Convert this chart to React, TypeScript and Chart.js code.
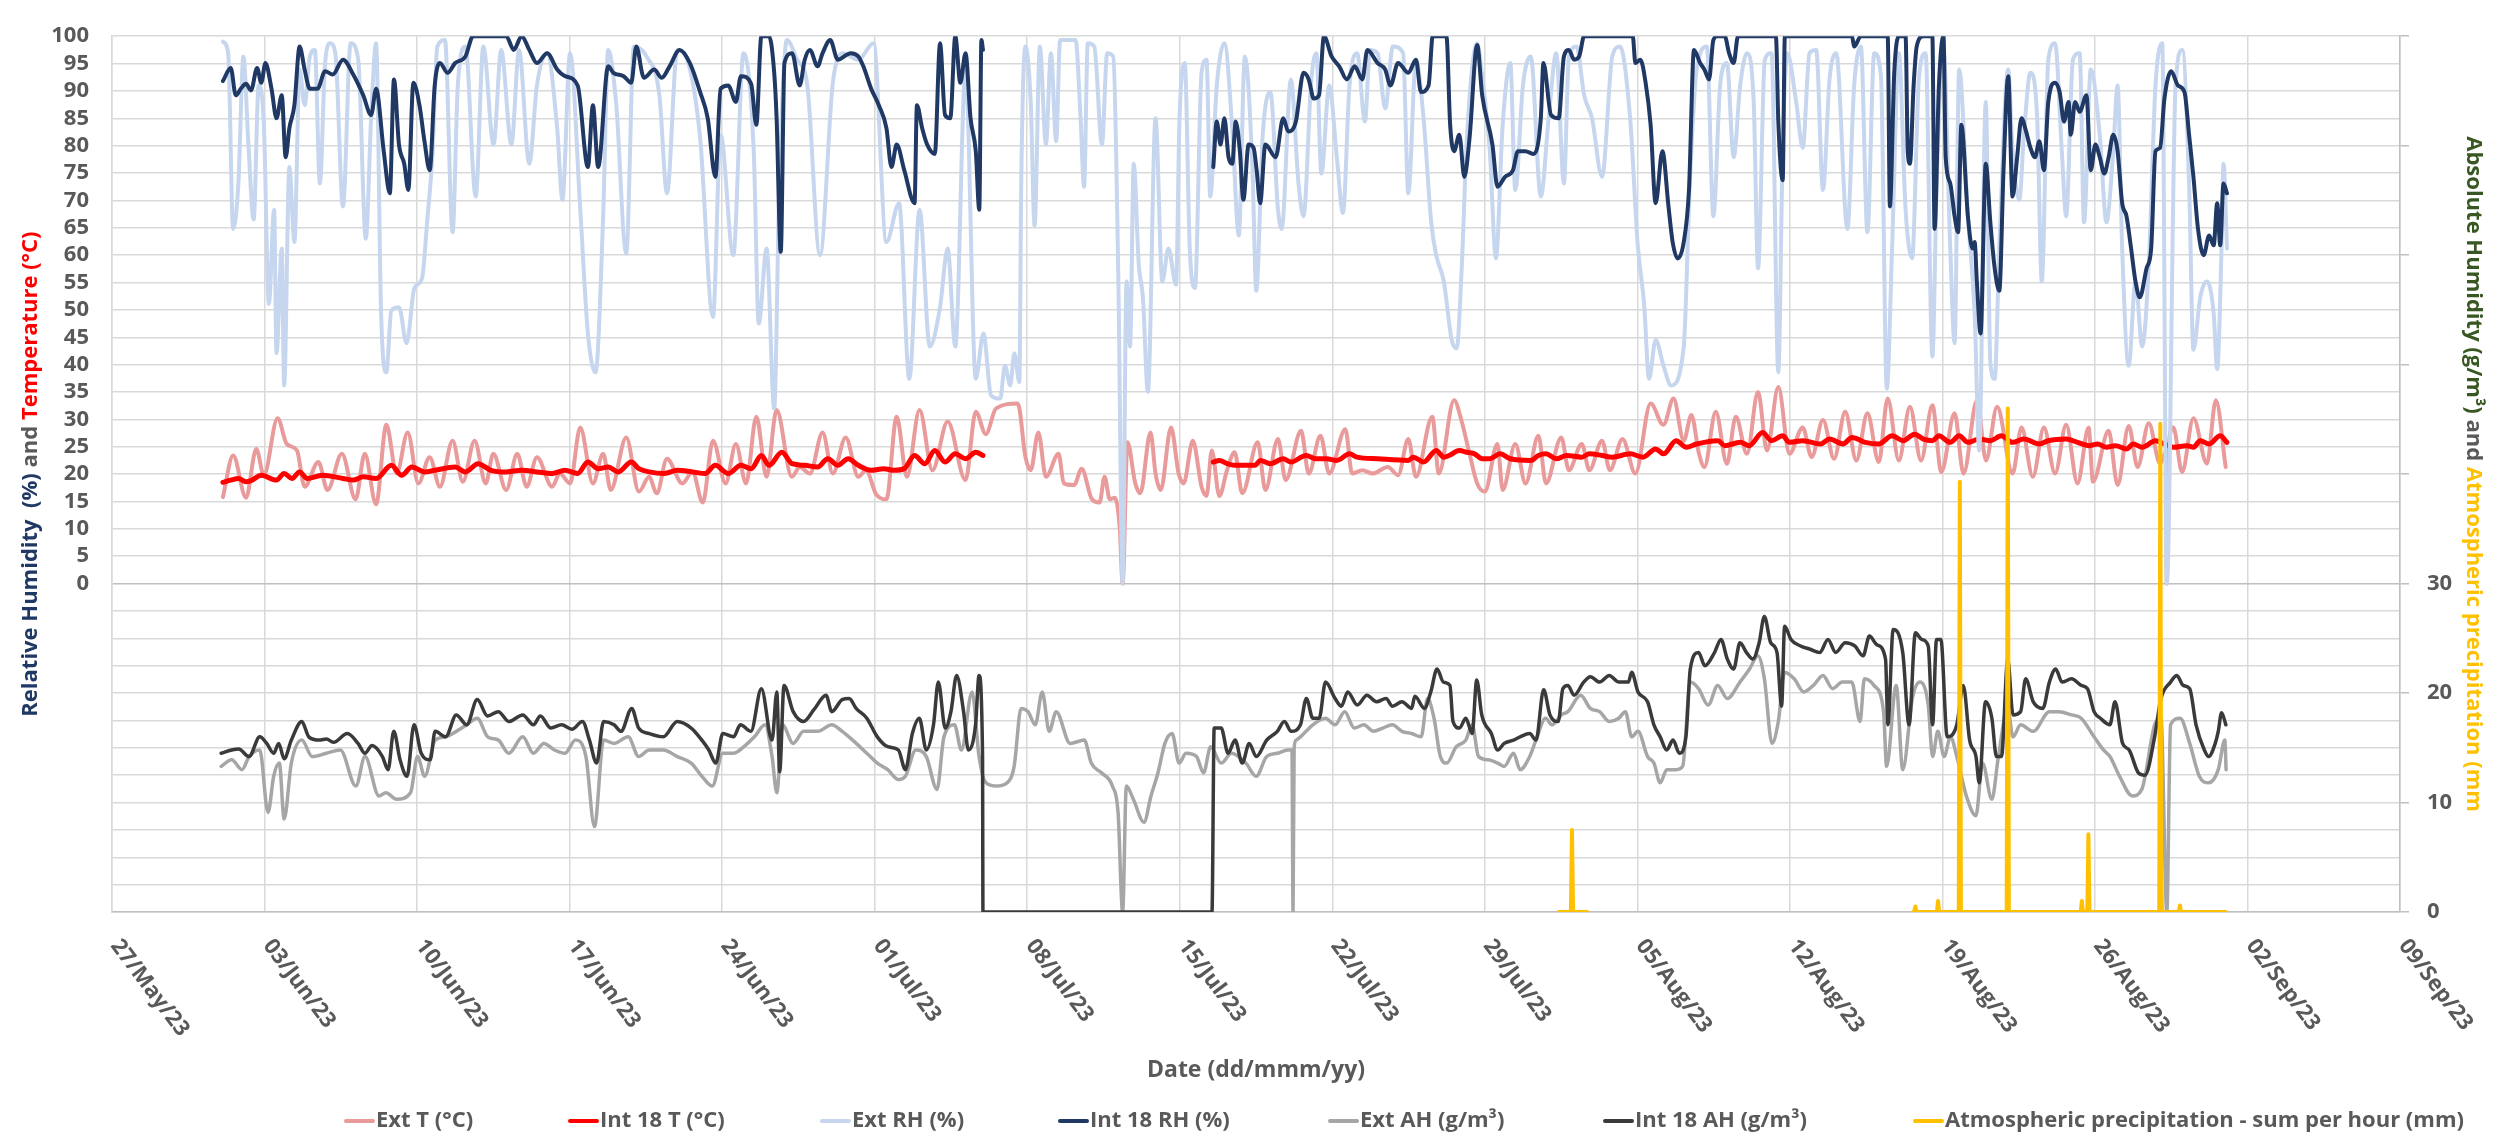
import React, { useEffect, useRef } from 'react';
import { Chart, registerables } from 'chart.js';

Chart.register(...registerables);

// x axis: days since 27/May/23
const xTickLabels = ['27/May/23', '03/Jun/23', '10/Jun/23', '17/Jun/23', '24/Jun/23', '01/Jul/23', '08/Jul/23', '15/Jul/23', '22/Jul/23', '29/Jul/23', '05/Aug/23', '12/Aug/23', '19/Aug/23', '26/Aug/23', '02/Sep/23', '09/Sep/23'];

const seriesLabels = ['Ext T (°C)', 'Int 18 T (°C)', 'Ext RH (%)', 'Int 18 RH (%)', 'Ext AH (g/m³)', 'Int 18 AH (g/m³)', 'Atmospheric precipitation - sum per hour (mm)'];

const extT: [number, number | null][] = [
[5.09,15.8],[5.56,23.4],[6.15,15.7],[6.62,24.6],[6.97,19.8],[7.6,30.2],[8.02,25.5],[8.49,24.3],[8.84,17.7],[9.47,22.2],[9.89,17.1],[10.55,23.7],[11.18,15.4],[11.6,23.7],[12.12,14.5],[12.59,29.0],[13.06,20.1],[13.57,27.6],[14.06,18.3],[14.58,23.1],[15.05,17.7],[15.63,26.1],[16.1,18.6],[16.64,26.1],[17.15,18.3],[17.5,23.7],[18.09,17.1],[18.6,23.7],[19.03,17.7],[19.5,23.1],[20.2,17.7],[20.55,20.1],[21.02,18.3],[21.49,28.5],[22.07,18.3],[22.54,23.7],[22.89,17.1],[23.6,26.7],[24.18,16.8],[24.65,19.5],[25.0,16.5],[25.47,22.8],[26.17,18.3],[26.64,20.4],[27.11,14.8],[27.58,26.1],[28.16,18.3],[28.63,25.5],[29.1,18.3],[29.57,30.5],[30.04,19.5],[30.5,31.7],[31.2,19.5],[31.56,21.3],[32.03,20.1],[32.61,27.6],[33.08,20.1],[33.67,26.7],[34.25,19.5],[34.6,20.7],[35.07,16.3],[35.54,15.4],[36.01,30.5],[36.48,19.5],[37.06,31.7],[37.65,20.7],[38.35,29.6],[39.17,18.9],[39.64,31.4],[40.1,27.3],[40.57,32.0],[41.57,32.9],[41.92,23.1],[42.16,20.7],[42.51,27.6],[42.86,19.5],[43.44,23.7],[43.68,18.3],[44.15,18.0],[44.5,21.0],[44.97,15.4],[45.32,14.8],[45.55,19.5],[45.79,15.4],[46.02,15.7],[46.25,10.0],[46.38,0],[46.6,25.8],[46.96,18.3],[47.19,16.5],[47.66,27.6],[47.89,20.1],[48.13,17.1],[48.6,28.5],[48.95,20.1],[49.18,18.3],[49.6,26.1],[50.0,17.7],[50.23,16.0],[50.47,24.3],[50.82,16.0],[51.17,20.7],[51.52,24.0],[51.87,16.5],[52.58,25.8],[52.93,17.1],[53.51,26.4],[53.86,18.9],[54.57,27.9],[54.92,20.1],[55.46,27.0],[55.86,20.1],[56.6,28.2],[56.91,20.1],[57.38,20.7],[57.85,20.1],[58.55,21.3],[59.02,19.8],[59.49,26.4],[59.84,19.5],[60.59,30.5],[60.89,20.1],[61.59,33.5],[61.94,29.6],[62.3,23.7],[62.65,18.3],[63.0,16.8],[63.58,25.5],[63.82,17.1],[64.4,25.5],[64.87,18.3],[65.46,27.0],[65.81,18.3],[66.51,26.7],[66.86,20.7],[67.45,25.5],[67.8,20.7],[68.38,26.1],[68.74,20.7],[69.32,26.4],[69.91,20.1],[70.61,32.9],[71.2,29.0],[71.66,33.8],[72.13,26.1],[72.48,30.8],[72.83,23.7],[73.08,21.3],[73.6,31.4],[74.11,21.9],[74.52,30.5],[75.03,23.7],[75.54,35.0],[75.95,24.3],[76.47,35.9],[76.98,23.7],[77.59,28.5],[78.0,23.1],[78.52,29.9],[79.03,22.8],[79.54,31.4],[80.05,22.5],[80.56,31.1],[81.08,22.2],[81.49,33.8],[82.0,22.5],[82.51,32.3],[83.02,22.5],[83.54,32.6],[83.95,20.4],[84.56,31.1],[84.97,20.1],[85.59,33.5],[86.0,22.5],[86.51,32.3],[87.22,20.1],[87.63,28.5],[88.15,19.5],[88.66,28.5],[89.17,20.1],[89.68,29.0],[90.2,18.3],[90.71,28.5],[90.91,18.6],[91.63,27.9],[92.04,18.0],[92.55,28.8],[92.96,21.3],[93.47,29.3],[93.99,21.9],[94.25,24.0],[94.3,0],[94.36,24.0],[94.6,28.5],[95.0,20.4],[95.52,30.2],[96.14,21.9],[96.55,33.5],[97.0,21.3]
];

const intT: [number, number | null][] = [
[5.09,18.5],[5.45,18.9],[5.8,19.2],[6.15,18.6],[6.38,18.8],[6.85,19.8],[7.55,18.9],[7.9,20.1],[8.26,19.2],[8.61,20.4],[8.96,19.2],[9.66,19.8],[10.6,19.2],[11.07,18.9],[11.53,19.5],[12.12,19.2],[12.82,21.6],[13.29,19.8],[13.76,21.3],[14.34,20.4],[14.81,20.7],[15.75,21.3],[16.22,20.4],[16.8,21.9],[17.39,20.7],[18.09,20.4],[18.8,20.7],[19.5,20.4],[20.2,20.1],[20.79,20.7],[21.37,20.1],[21.84,22.2],[22.31,21.0],[22.77,21.3],[23.24,20.4],[23.83,22.2],[24.18,21.0],[24.65,20.4],[25.35,20.1],[25.94,20.7],[26.64,20.4],[27.22,20.1],[27.69,21.6],[28.28,20.1],[28.86,21.6],[29.33,21.0],[29.8,23.4],[30.15,21.6],[30.74,24.0],[31.21,21.9],[31.79,21.6],[32.38,21.3],[32.85,22.8],[33.31,21.6],[33.78,22.8],[34.25,21.6],[34.84,20.7],[35.42,21.0],[35.89,20.7],[36.36,21.0],[36.83,23.4],[37.3,21.9],[37.76,24.3],[38.23,22.2],[38.7,23.7],[39.17,22.8],[39.64,24.0],[39.97,23.4],
[45,null],
[50.54,22.2],[50.82,22.5],[51.17,21.9],[51.52,21.6],[51.99,21.6],[52.46,21.6],[52.69,22.5],[53.16,21.9],[53.75,22.8],[54.1,22.2],[54.8,23.4],[55.27,22.8],[55.74,22.8],[56.21,22.5],[56.79,23.7],[57.14,23.1],[58.08,22.8],[59.49,22.5],[59.72,23.1],[60.19,22.2],[60.77,24.3],[61.12,23.1],[61.36,23.4],[61.83,24.3],[62.18,24.0],[62.53,23.7],[62.88,22.8],[63.23,22.8],[63.7,23.7],[64.17,22.8],[65.11,22.5],[65.46,23.4],[65.81,23.7],[66.28,22.8],[66.75,23.4],[67.45,23.1],[67.8,23.7],[68.38,23.4],[68.85,23.1],[69.67,23.7],[70.26,23.1],[70.84,24.6],[71.2,23.7],[71.78,26.1],[72.25,24.9],[72.72,25.5],[73.7,26.1],[74.01,25.2],[74.72,25.8],[75.13,25.2],[75.75,27.6],[76.16,26.1],[76.67,27.0],[76.98,25.8],[77.59,26.1],[78.41,25.5],[78.82,26.4],[79.44,25.5],[79.85,26.7],[80.46,25.8],[81.08,25.5],[81.69,27.0],[82.2,26.1],[82.72,27.3],[83.13,26.4],[83.54,26.1],[83.84,27.0],[84.36,25.8],[84.77,27.0],[85.17,25.8],[85.69,26.4],[86.2,26.1],[86.71,27.0],[87.22,25.8],[87.74,26.4],[88.45,25.5],[88.86,26.1],[89.68,26.4],[90.2,25.8],[90.71,25.2],[91.12,25.5],[91.53,24.9],[91.94,25.2],[92.45,24.6],[92.76,25.5],[93.17,24.9],[93.78,26.1],[94.19,25.5],[94.6,24.9],[95.22,25.2],[95.52,24.9],[95.83,26.1],[96.24,25.5],[96.75,27.0],[97.06,25.8]
];

const extRH: [number, number | null][] = [
[5.09,99.0],[5.33,96.9],[5.56,64.8],[5.8,73.1],[6.03,96.3],[6.26,80.2],[6.5,66.5],[6.73,91.0],[6.97,83.8],[7.2,51.1],[7.44,68.3],[7.55,42.1],[7.79,61.2],[7.9,36.2],[8.14,76.1],[8.37,62.4],[8.61,93.9],[8.84,87.4],[9.08,96.3],[9.31,97.5],[9.54,73.1],[9.78,95.1],[10.01,98.7],[10.25,96.9],[10.6,68.9],[10.95,98.7],[11.3,95.7],[11.65,63.0],[11.89,85.0],[12.12,98.7],[12.35,49.3],[12.59,38.6],[12.82,49.9],[13.17,50.5],[13.52,43.9],[13.88,54.0],[14.23,55.8],[14.46,66.0],[14.7,77.9],[14.93,98.1],[15.28,99.3],[15.63,64.2],[15.87,91.0],[16.22,98.1],[16.69,70.7],[17.04,98.1],[17.51,80.2],[17.86,97.5],[18.33,80.2],[18.68,97.5],[19.15,76.7],[19.5,91.0],[19.97,96.9],[20.43,83.2],[20.67,70.1],[21.02,96.9],[21.49,68.3],[21.84,45.7],[22.19,38.6],[22.54,67.1],[22.77,97.5],[23.13,88.0],[23.6,60.3],[23.95,98.1],[24.53,96.3],[25.12,89.2],[25.47,71.3],[25.94,97.5],[26.4,95.7],[26.99,81.4],[27.58,48.7],[27.93,82.0],[28.51,60.0],[28.98,96.9],[29.45,79.0],[29.68,47.5],[30.04,61.2],[30.39,32.0],[30.62,71.9],[30.97,99.3],[31.44,95.7],[31.91,91.0],[32.49,60.0],[33.08,91.5],[33.55,96.9],[34.25,95.7],[34.95,98.7],[35.54,62.4],[36.12,69.5],[36.59,37.4],[37.06,68.3],[37.53,43.3],[38.0,50.5],[38.35,61.2],[38.7,43.3],[39.17,93.9],[39.64,37.4],[39.99,45.7],[40.34,34.4],[40.76,33.8],[40.98,39.8],[41.22,36.2],[41.41,42.1],[41.64,36.8],[41.73,74.3],[41.92,98.1],[42.16,88.0],[42.34,65.4],[42.58,98.1],[42.86,80.2],[43.09,96.9],[43.33,80.8],[43.51,99.3],[43.91,99.3],[44.22,99.3],[44.45,85.0],[44.61,72.5],[44.78,98.7],[45.08,98.1],[45.43,80.2],[45.67,96.9],[45.95,96.3],[46.18,56.4],[46.38,0],[46.56,55.2],[46.72,43.3],[46.89,76.7],[47.12,58.2],[47.31,52.3],[47.54,35.0],[47.89,85.0],[48.2,55.2],[48.48,61.2],[48.83,54.6],[48.99,85.0],[49.23,95.1],[49.46,61.2],[49.7,54.0],[50.0,93.3],[50.23,95.7],[50.4,70.7],[50.7,91.0],[51.05,98.7],[51.41,83.2],[51.71,63.6],[51.99,96.3],[52.34,75.5],[52.51,53.5],[52.81,82.0],[53.16,89.8],[53.51,68.3],[53.68,64.8],[54.1,92.1],[54.45,73.1],[54.68,67.1],[55.04,92.1],[55.27,96.9],[55.5,74.9],[55.86,91.0],[56.21,77.9],[56.49,67.7],[56.79,91.0],[57.14,96.9],[57.5,84.4],[57.73,97.5],[58.08,96.9],[58.43,86.8],[58.78,98.1],[59.25,96.9],[59.49,71.3],[59.84,95.7],[60.19,85.0],[60.54,66.0],[60.77,60.0],[61.12,55.2],[61.48,44.5],[61.71,43.0],[61.94,57.6],[62.18,81.4],[62.65,98.7],[62.88,92.7],[63.23,79.0],[63.51,59.4],[63.82,83.8],[64.17,95.1],[64.4,71.9],[64.75,91.0],[65.11,96.3],[65.57,70.7],[65.93,85.0],[66.28,96.9],[66.63,73.1],[66.86,96.3],[67.21,98.1],[67.56,89.2],[67.92,85.0],[68.38,74.3],[68.85,96.3],[69.2,98.1],[69.67,85.0],[70.02,61.8],[70.31,51.1],[70.54,37.4],[70.84,44.5],[71.2,39.8],[71.55,36.2],[72.13,43.3],[72.41,73.1],[72.72,93.9],[73.19,98.1],[73.49,67.1],[73.8,91.0],[74.11,95.1],[74.42,77.9],[74.72,91.0],[75.03,96.9],[75.34,88.0],[75.54,57.6],[75.85,95.7],[76.16,96.9],[76.47,38.6],[76.67,79.0],[76.88,96.9],[77.29,88.0],[77.59,79.6],[77.9,96.9],[78.21,97.5],[78.52,71.9],[78.82,92.1],[79.13,96.9],[79.64,64.8],[79.95,91.0],[80.26,98.1],[80.56,64.2],[80.87,96.9],[81.18,92.7],[81.45,35.6],[81.69,61.2],[82.0,96.9],[82.31,68.3],[82.61,59.4],[82.92,92.1],[83.23,96.9],[83.54,41.5],[83.74,73.1],[84.05,97.5],[84.36,61.2],[84.56,43.9],[84.77,93.9],[85.17,67.1],[85.48,49.3],[85.69,24.3],[85.99,88.0],[86.2,40.4],[86.4,37.4],[86.61,61.2],[87.02,93.9],[87.22,79.0],[87.53,70.1],[87.74,82.0],[88.04,93.3],[88.35,85.0],[88.56,55.2],[88.86,95.7],[89.17,98.7],[89.48,79.0],[89.68,67.1],[89.99,95.7],[90.3,96.9],[90.5,66.0],[90.81,93.9],[91.22,82.0],[91.53,66.0],[91.84,79.0],[92.04,91.0],[92.25,61.2],[92.55,39.8],[92.86,55.2],[93.17,43.3],[93.47,58.2],[93.78,91.0],[94.09,98.7],[94.3,0],[94.7,91.0],[95.01,97.5],[95.32,73.1],[95.52,42.7],[95.83,52.3],[96.14,55.2],[96.45,49.3],[96.61,39.2],[96.81,61.2],[96.9,76.7],[97.06,61.2]
];

const intRH: [number, number | null][] = [
[5.09,91.8],[5.45,94.2],[5.68,89.2],[5.91,90.4],[6.15,91.3],[6.38,90.1],[6.66,94.2],[6.85,91.5],[7.04,95.1],[7.32,90.4],[7.55,85.0],[7.79,89.2],[7.97,77.9],[8.14,83.2],[8.37,87.4],[8.61,98.1],[8.84,93.9],[9.08,90.4],[9.43,90.4],[9.78,93.6],[10.13,93.0],[10.6,95.7],[11.07,93.0],[11.53,89.2],[11.89,85.6],[12.12,90.4],[12.47,79.0],[12.75,71.3],[12.94,92.1],[13.17,80.2],[13.41,76.7],[13.6,71.9],[13.83,91.5],[14.11,87.4],[14.34,80.8],[14.58,75.5],[14.81,91.0],[15.05,95.1],[15.4,93.3],[15.75,95.1],[16.22,96.3],[16.57,100],[18.09,100],[18.44,97.5],[18.8,100],[19.15,97.5],[19.5,95.1],[19.97,96.9],[20.43,93.9],[20.79,92.7],[21.37,91.0],[21.84,76.1],[22.07,87.4],[22.31,76.1],[22.77,94.5],[23.01,93.3],[23.48,92.7],[23.83,91.5],[24.06,98.1],[24.41,92.4],[24.88,93.9],[25.23,92.4],[25.59,94.5],[26.05,97.5],[26.52,95.1],[26.99,89.8],[27.34,85.0],[27.69,74.3],[27.93,90.4],[28.28,91.0],[28.63,88.0],[28.86,92.7],[29.33,91.3],[29.57,83.8],[29.8,100],[30.15,100],[30.39,93.3],[30.5,85.0],[30.69,60.6],[30.86,95.1],[31.21,96.9],[31.56,91.0],[31.79,95.7],[32.03,97.5],[32.38,94.5],[32.61,96.9],[32.96,99.3],[33.31,95.7],[33.9,96.9],[34.25,96.3],[34.48,94.5],[34.84,90.4],[35.19,87.4],[35.54,83.2],[35.77,76.1],[36.01,80.2],[36.36,75.5],[36.83,69.5],[36.94,87.4],[37.18,83.2],[37.41,80.2],[37.76,78.5],[38.0,98.7],[38.23,85.6],[38.47,85.0],[38.7,100],[38.93,91.5],[39.17,96.9],[39.4,85.0],[39.64,79.0],[39.8,68.3],[39.9,99.3],[39.97,97.5],
[45,null],
[50.54,76.1],[50.7,84.4],[50.87,80.2],[51.05,85.0],[51.24,77.9],[51.41,76.7],[51.57,84.4],[51.76,79.0],[51.92,70.1],[52.16,80.2],[52.39,79.6],[52.53,75.5],[52.69,69.5],[52.93,80.2],[53.4,77.9],[53.75,85.0],[53.98,82.6],[54.33,84.4],[54.68,93.3],[54.92,92.1],[55.15,88.6],[55.39,89.2],[55.62,100],[55.97,96.3],[56.32,94.5],[56.67,92.1],[57.03,94.5],[57.38,92.1],[57.61,97.5],[58.08,95.1],[58.43,93.9],[58.67,91.0],[59.02,95.1],[59.49,93.3],[59.84,95.7],[60.07,89.8],[60.42,91.0],[60.61,100],[61.24,100],[61.41,83.8],[61.59,79.0],[61.83,82.0],[62.06,74.3],[62.3,81.4],[62.65,98.4],[62.88,89.2],[63.35,80.2],[63.58,72.5],[63.93,74.3],[64.29,75.5],[64.52,79.0],[64.87,79.0],[65.22,78.5],[65.57,85.0],[65.69,95.1],[66.04,85.6],[66.39,85.0],[66.63,96.3],[66.86,97.5],[67.1,95.7],[67.33,96.3],[67.56,100],[69.79,100],[69.91,95.1],[70.14,95.7],[70.38,91.5],[70.61,83.8],[70.84,69.5],[71.15,79.0],[71.43,68.9],[71.62,62.4],[71.85,59.4],[72.13,62.4],[72.37,71.9],[72.6,97.5],[72.88,95.1],[73.08,93.9],[73.29,92.1],[73.49,99.3],[73.7,100],[74.01,100],[74.21,96.9],[74.42,95.1],[74.62,100],[76.36,100],[76.47,84.4],[76.67,73.7],[76.77,100],[79.85,100],[79.95,98.1],[80.26,100],[81.49,100],[81.59,68.9],[81.79,93.3],[82.0,100],[82.31,100],[82.41,79.0],[82.51,76.7],[82.68,91.0],[82.82,98.1],[83.13,100],[83.54,100],[83.64,64.8],[83.84,91.0],[84.05,100],[84.15,77.9],[84.36,73.1],[84.56,67.1],[84.72,64.2],[84.87,83.8],[85.17,67.1],[85.38,61.2],[85.48,62.4],[85.58,55.2],[85.75,45.7],[85.99,76.7],[86.2,66.0],[86.4,57.6],[86.61,53.5],[86.81,76.1],[87.02,92.7],[87.22,70.7],[87.43,77.9],[87.63,85.0],[87.84,82.6],[88.04,79.6],[88.25,77.9],[88.45,80.8],[88.66,75.5],[88.86,88.0],[89.17,91.5],[89.38,89.8],[89.58,84.4],[89.79,88.0],[89.89,82.0],[90.09,88.0],[90.3,86.2],[90.61,89.2],[90.81,75.5],[91.02,80.2],[91.22,77.9],[91.43,74.9],[91.63,77.9],[91.84,82.0],[92.04,79.0],[92.25,69.5],[92.45,67.1],[92.66,61.2],[92.86,55.2],[93.06,52.3],[93.37,57.6],[93.58,61.2],[93.78,79.0],[93.99,79.6],[94.19,88.6],[94.5,93.6],[94.81,91.0],[95.11,89.8],[95.32,82.0],[95.52,74.3],[95.73,64.8],[95.99,60.0],[96.24,63.6],[96.45,61.8],[96.61,69.5],[96.75,61.8],[96.9,73.1],[97.06,71.3]
];

const extAH: [number, number | null][] = [
[5.01,13.3],[5.49,13.9],[5.97,13.0],[6.29,14.2],[6.78,14.8],[7.16,9.1],[7.42,12.4],[7.68,13.6],[7.9,8.5],[8.23,13.6],[8.71,15.7],[9.19,14.2],[9.84,14.5],[10.48,14.8],[11.19,11.5],[11.61,14.2],[12.25,10.6],[12.57,10.9],[13.06,10.3],[13.7,10.9],[14.02,14.2],[14.35,12.4],[14.83,15.7],[15.31,16.0],[15.8,16.5],[16.28,17.1],[16.76,17.7],[17.24,16.0],[17.73,15.7],[18.21,14.5],[18.85,16.0],[19.34,14.5],[19.82,15.4],[20.3,14.8],[20.79,14.5],[21.27,15.7],[21.75,14.2],[22.14,7.8],[22.56,15.7],[23.04,15.4],[23.69,16.0],[24.17,14.2],[24.65,14.8],[25.3,14.8],[25.94,14.2],[26.58,13.6],[27.07,12.4],[27.55,11.5],[28.03,14.5],[28.52,14.5],[29.0,15.1],[29.48,16.0],[29.97,17.1],[30.29,14.2],[30.51,10.9],[30.77,17.1],[31.26,15.4],[31.74,16.5],[32.38,16.5],[33.03,17.1],[33.51,16.5],[33.99,15.7],[34.64,14.5],[35.12,13.6],[35.6,13.0],[36.09,12.1],[36.41,12.4],[36.89,14.8],[37.37,14.2],[37.86,11.2],[38.18,16.0],[38.66,17.1],[38.98,14.8],[39.47,20.1],[39.79,14.2],[40.11,11.8],[40.59,11.5],[41.08,11.8],[41.4,13.3],[41.72,18.6],[42.04,18.3],[42.37,17.1],[42.69,20.1],[43.01,16.5],[43.33,18.3],[43.97,15.4],[44.62,15.7],[44.94,13.6],[45.42,12.7],[45.91,11.5],[46.17,9.1],[46.38,0],[46.55,11.5],[46.87,10.3],[47.36,8.2],[47.68,10.6],[48.0,12.7],[48.32,15.4],[48.65,16.3],[48.97,13.6],[49.29,14.5],[49.77,14.2],[50.09,12.7],[50.42,15.1],[50.9,13.6],[51.38,14.5],[52.03,13.6],[52.51,12.4],[52.99,14.2],[53.48,14.5],[53.96,14.8],[54.15,14.8],[54.2,0],[54.25,15.0],[54.34,15.7],[54.54,16.0],[55.11,17.1],[55.69,17.7],[56.13,17.1],[56.57,18.3],[57.01,16.8],[57.45,17.1],[57.89,16.5],[58.32,16.8],[58.76,17.1],[59.2,16.5],[59.64,16.3],[60.08,16.0],[60.37,19.5],[60.67,17.7],[60.96,14.2],[61.25,13.6],[61.69,15.1],[62.13,15.7],[62.42,17.1],[62.71,14.2],[63.15,13.9],[63.59,13.6],[63.89,13.3],[64.32,14.5],[64.62,13.0],[65.06,14.2],[65.35,15.7],[65.79,17.7],[66.08,17.1],[66.52,18.0],[66.81,18.3],[67.4,19.8],[67.84,18.6],[68.27,18.3],[68.71,17.4],[69.15,17.7],[69.45,18.3],[69.74,16.0],[70.03,16.5],[70.47,14.2],[70.76,13.6],[71.05,11.8],[71.35,13.0],[71.79,13.0],[72.08,13.3],[72.43,21.0],[72.81,20.4],[73.25,18.9],[73.69,20.7],[74.13,19.5],[74.71,21.0],[75.15,22.2],[75.53,23.4],[75.83,21.3],[76.18,15.4],[76.47,17.4],[76.76,21.9],[77.2,21.3],[77.64,20.1],[78.08,20.7],[78.52,21.6],[78.96,20.4],[79.4,21.0],[79.84,21.0],[80.22,17.4],[80.42,21.3],[80.86,20.7],[81.3,18.3],[81.44,13.3],[81.88,20.7],[82.18,13.0],[82.62,19.5],[82.97,21.0],[83.35,18.9],[83.55,14.2],[83.79,16.5],[84.08,14.2],[84.37,16.0],[84.66,14.2],[85.1,10.6],[85.54,8.8],[85.84,13.6],[86.27,10.3],[86.57,14.2],[87.0,18.6],[87.24,16.0],[87.59,17.1],[88.17,16.5],[88.91,18.3],[89.35,18.3],[89.93,18.0],[90.37,17.7],[90.96,16.0],[91.39,14.8],[91.69,14.2],[92.13,12.4],[92.71,10.6],[93.15,11.2],[93.74,17.1],[94.03,17.7],[94.3,0],[94.47,17.1],[94.91,17.7],[95.35,15.4],[95.79,12.4],[96.22,11.8],[96.66,13.0],[96.96,15.7],[97.02,13.0]
];

const intAH: [number, number | null][] = [
[5.01,14.5],[5.49,14.8],[5.81,14.9],[6.29,14.2],[6.78,16.0],[7.1,15.4],[7.42,14.5],[7.65,15.4],[7.9,14.0],[8.23,15.7],[8.71,17.4],[9.03,16.0],[9.52,15.7],[9.84,15.8],[10.16,15.5],[10.8,16.3],[11.29,15.4],[11.61,14.5],[11.93,15.2],[12.41,14.2],[12.67,13.0],[12.93,16.5],[13.22,13.9],[13.54,12.4],[13.86,17.1],[14.19,14.5],[14.6,13.9],[14.83,16.5],[15.31,16.0],[15.8,18.0],[16.28,17.1],[16.76,19.4],[17.24,17.9],[17.73,18.3],[18.21,17.4],[18.85,18.0],[19.34,17.1],[19.66,17.9],[20.14,16.8],[20.63,17.1],[21.11,16.7],[21.59,17.4],[21.91,15.7],[22.24,13.6],[22.56,17.4],[23.04,17.1],[23.36,16.5],[23.85,18.6],[24.17,16.8],[24.65,16.3],[25.3,16.0],[25.94,17.4],[26.58,16.8],[27.07,15.7],[27.39,14.8],[27.71,13.6],[28.03,16.3],[28.52,16.0],[28.84,17.1],[29.32,16.5],[29.8,20.4],[30.29,15.7],[30.51,20.1],[30.64,12.8],[30.84,20.7],[31.26,18.3],[31.74,17.4],[32.22,18.5],[32.77,19.8],[33.03,18.3],[33.51,19.4],[33.83,19.5],[34.15,18.6],[34.64,17.7],[35.12,16.0],[35.6,15.1],[36.09,14.8],[36.41,13.0],[36.73,16.3],[37.05,17.7],[37.37,14.8],[37.7,17.1],[37.92,21.0],[38.24,16.8],[38.5,18.3],[38.76,21.6],[39.08,18.3],[39.3,14.8],[39.63,17.1],[39.79,21.6],[39.95,14.5],[39.97,0],[50.48,0],[50.58,16.8],[50.9,16.8],[51.22,14.5],[51.54,15.7],[51.87,13.6],[52.19,15.4],[52.51,14.2],[52.99,15.7],[53.48,16.5],[53.8,17.4],[54.12,16.5],[54.54,17.1],[54.81,19.5],[55.11,17.7],[55.4,17.7],[55.69,21.0],[56.13,19.5],[56.42,18.8],[56.71,20.1],[57.15,18.9],[57.59,19.8],[58.03,19.2],[58.47,19.5],[58.76,18.8],[59.2,19.2],[59.64,18.6],[59.79,19.7],[60.23,18.6],[60.52,20.1],[60.81,22.2],[61.1,21.0],[61.4,20.7],[61.54,17.4],[61.84,16.8],[62.13,17.7],[62.42,16.3],[62.63,21.2],[62.86,18.0],[63.3,16.3],[63.59,14.8],[63.89,15.4],[64.32,15.7],[64.62,16.0],[65.06,16.3],[65.35,15.7],[65.7,20.3],[65.99,18.0],[66.37,17.4],[66.58,20.4],[66.81,20.7],[67.1,19.8],[67.54,21.0],[67.84,21.5],[68.27,21.0],[68.71,21.6],[69.15,21.0],[69.59,21.0],[69.74,21.9],[70.03,20.1],[70.47,19.2],[70.76,17.1],[71.05,16.0],[71.35,14.8],[71.64,15.7],[71.93,14.5],[72.23,16.0],[72.43,22.2],[72.81,23.7],[73.1,22.5],[73.54,23.7],[73.84,24.9],[74.13,23.1],[74.42,22.2],[74.71,24.6],[75.01,23.7],[75.3,23.1],[75.59,24.6],[75.83,27.0],[76.12,24.6],[76.41,23.7],[76.62,18.8],[76.76,26.1],[77.05,24.9],[77.49,24.3],[77.93,24.0],[78.37,23.7],[78.75,24.9],[79.1,23.7],[79.54,24.6],[79.98,24.3],[80.36,23.4],[80.65,25.2],[81.0,24.4],[81.39,23.1],[81.5,17.1],[81.74,25.8],[82.18,23.7],[82.47,17.1],[82.76,25.5],[83.05,24.9],[83.35,24.3],[83.55,17.1],[83.73,24.9],[83.93,24.9],[84.22,16.0],[84.66,17.1],[84.96,20.7],[85.25,15.7],[85.54,14.2],[85.69,11.8],[85.98,19.2],[86.27,17.7],[86.48,14.2],[86.71,14.2],[87.0,23.1],[87.24,18.0],[87.59,18.3],[87.82,21.3],[88.17,19.2],[88.61,18.6],[88.91,21.0],[89.2,22.2],[89.49,21.0],[89.93,21.3],[90.37,20.7],[90.66,20.4],[90.96,18.3],[91.25,17.7],[91.69,17.1],[91.92,19.2],[92.27,15.4],[92.57,14.8],[93.0,12.7],[93.3,12.5],[93.74,16.0],[94.03,19.5],[94.47,21.0],[94.76,21.6],[95.05,20.7],[95.35,20.4],[95.64,17.1],[96.02,14.8],[96.22,14.2],[96.52,15.4],[96.66,16.5],[96.81,18.2],[97.01,17.1]
];

const precip: [number, number | null][] = [
[66.4,0],[66.95,0],[67.0,7.5],[67.05,0],[67.7,0],[67.72,null],
[82.7,0],[82.76,0.5],[82.8,0],[83.75,0],[83.8,1.0],[83.85,0],[84.75,0],[84.8,39.3],[84.85,0],[86.95,0],[87.0,46.0],[87.05,0],[90.35,0],[90.4,1.0],[90.45,0],[90.65,0],[90.7,7.1],[90.75,0],[93.95,0],[94.0,44.6],[94.04,4.0],[94.08,0],[94.85,0],[94.9,0.6],[94.95,0],[97.0,0]
];

const FONT_FAMILY = '"Open Sans", Lato, sans-serif';
const TEXT_GRAY = '#595959';
const GRID = '#D9D9D9';
const AXIS = '#BFBFBF';

const toXY = (pts: [number, number | null][]) => pts.map(([x, y]) => ({ x, y }));

type Seg = { text: string; color: string };

function drawSegments(ctx: CanvasRenderingContext2D, segs: Seg[], cx: number, cy: number, angle: number) {
  ctx.save();
  const widths = segs.map((s) => ctx.measureText(s.text).width);
  const total = widths.reduce((a, b) => a + b, 0);
  ctx.translate(cx, cy);
  ctx.rotate(angle);
  ctx.textAlign = 'left';
  ctx.textBaseline = 'middle';
  let x = -total / 2;
  segs.forEach((s, i) => {
    ctx.fillStyle = s.color;
    ctx.fillText(s.text, x, 0);
    x += widths[i];
  });
  ctx.restore();
}

const legendStartX = [344, 568, 820, 1058, 1328, 1603, 1913];

const textPlugin = {
  id: 'customText',
  afterDraw(chart: any) {
    const ctx: CanvasRenderingContext2D = chart.ctx;
    const xs = chart.scales.x;
    const area = chart.chartArea;
    ctx.save();
    // x tick labels, rotated clockwise
    ctx.font = `bold 22px ${FONT_FAMILY}`;
    xs.ticks.forEach((t: any, i: number) => {
      const px = xs.getPixelForValue(t.value);
      ctx.save();
      ctx.translate(px + 3, area.bottom + 30);
      ctx.rotate((53 * Math.PI) / 180);
      ctx.textAlign = 'left';
      ctx.textBaseline = 'middle';
      ctx.fillStyle = TEXT_GRAY;
      ctx.fillText(xTickLabels[i] ?? '', 0, 0);
      ctx.restore();
    });
    // x title
    ctx.font = `bold 23px ${FONT_FAMILY}`;
    ctx.fillStyle = TEXT_GRAY;
    ctx.textAlign = 'center';
    ctx.textBaseline = 'middle';
    ctx.fillText('Date (dd/mmm/yy)', (area.left + area.right) / 2, 1070);
    // axis titles
    const cy = (area.top + area.bottom) / 2;
    ctx.font = `bold 22px ${FONT_FAMILY}`;
    drawSegments(ctx, [
      { text: 'Relative Humidity  (%)', color: '#203864' },
      { text: ' and ', color: TEXT_GRAY },
      { text: 'Temperature (°C)', color: '#FF0000' },
    ], 31, cy, -Math.PI / 2);
    drawSegments(ctx, [
      { text: 'Absolute Humidity (g/m³)', color: '#385723' },
      { text: ' and ', color: TEXT_GRAY },
      { text: 'Atmospheric precipitation (mm', color: '#FFC000' },
    ], 2473, cy, Math.PI / 2);
    // legend
    ctx.font = `bold 22px ${FONT_FAMILY}`;
    chart.data.datasets.forEach((ds: any, i: number) => {
      const x0 = legendStartX[i];
      const y0 = 1121;
      ctx.strokeStyle = ds.borderColor;
      ctx.lineWidth = 4;
      ctx.lineCap = 'round';
      ctx.beginPath();
      ctx.moveTo(x0 + 2, y0);
      ctx.lineTo(x0 + 29, y0);
      ctx.stroke();
      ctx.fillStyle = TEXT_GRAY;
      ctx.textAlign = 'left';
      ctx.textBaseline = 'middle';
      ctx.fillText(ds.label, x0 + 32, y0);
    });
    ctx.restore();
  },
};

export default function App() {
  const canvasRef = useRef<HTMLCanvasElement | null>(null);

  useEffect(() => {
    const canvas = canvasRef.current;
    if (!canvas) return;
    const common = { pointRadius: 0, pointHoverRadius: 0, fill: false, spanGaps: false, borderJoinStyle: 'round' as const, borderCapStyle: 'round' as const };
    const tickFont = { family: FONT_FAMILY, size: 22, weight: 'bold' as const };
    const chart = new Chart(canvas, {
      type: 'line',
      data: {
        datasets: [
          { ...common, label: seriesLabels[0], data: toXY(extT), borderColor: '#E99A9A', backgroundColor: '#E99A9A', borderWidth: 4, yAxisID: 'y', order: 7, cubicInterpolationMode: 'monotone' },
          { ...common, label: seriesLabels[1], data: toXY(intT), borderColor: '#FF0000', backgroundColor: '#FF0000', borderWidth: 5, yAxisID: 'y', order: 6, cubicInterpolationMode: 'monotone' },
          { ...common, label: seriesLabels[2], data: toXY(extRH), borderColor: '#C6D6EE', backgroundColor: '#C6D6EE', borderWidth: 4, yAxisID: 'y', order: 5, cubicInterpolationMode: 'monotone' },
          { ...common, label: seriesLabels[3], data: toXY(intRH), borderColor: '#203864', backgroundColor: '#203864', borderWidth: 4, yAxisID: 'y', order: 4, cubicInterpolationMode: 'monotone' },
          { ...common, label: seriesLabels[4], data: toXY(extAH), borderColor: '#A6A6A6', backgroundColor: '#A6A6A6', borderWidth: 3.5, yAxisID: 'y2', order: 3, cubicInterpolationMode: 'monotone' },
          { ...common, label: seriesLabels[5], data: toXY(intAH), borderColor: '#3A3A3A', backgroundColor: '#3A3A3A', borderWidth: 3.5, yAxisID: 'y2', order: 2, cubicInterpolationMode: 'monotone' },
          { ...common, label: seriesLabels[6], data: toXY(precip), borderColor: '#FFC000', backgroundColor: '#FFC000', borderWidth: 4, yAxisID: 'y2', order: 1, tension: 0 },
        ],
      },
      options: {
        responsive: false,
        animation: false,
        events: [],
        layout: { padding: { top: 16, left: 0, right: 0, bottom: 0 } },
        plugins: { legend: { display: false }, tooltip: { enabled: false }, title: { display: false } },
        scales: {
          x: {
            type: 'linear',
            min: 0,
            max: 105,
            ticks: { stepSize: 7, display: false },
            grid: { color: GRID, lineWidth: 1.5, drawTicks: false },
            border: { color: AXIS, width: 1.5 },
            afterFit: (s: any) => { s.height = 225; },
          },
          y: {
            type: 'linear',
            position: 'left',
            min: -60,
            max: 100,
            ticks: {
              stepSize: 5,
              autoSkip: false,
              padding: 23,
              color: TEXT_GRAY,
              font: tickFont,
              callback: (v: any) => (Number(v) >= 0 ? String(v) : ''),
            },
            grid: {
              drawTicks: false,
              lineWidth: 1.5,
              color: (c: any) => (c.tick && c.tick.value === 0 ? AXIS : GRID),
            },
            border: { color: GRID, width: 1.5 },
            afterFit: (s: any) => { s.width = 112; },
          },
          y2: {
            type: 'linear',
            position: 'right',
            min: 0,
            max: 80,
            ticks: {
              stepSize: 10,
              autoSkip: false,
              padding: 18,
              color: TEXT_GRAY,
              font: tickFont,
              callback: (v: any) => (Number(v) <= 30 ? String(v) : ''),
            },
            grid: { drawOnChartArea: false, drawTicks: true, tickLength: 9, color: AXIS, lineWidth: 1.5 },
            border: { color: AXIS, width: 1.5 },
            afterFit: (s: any) => { s.width = 109; },
          },
        },
      },
      plugins: [textPlugin],
    } as any);
    return () => chart.destroy();
  }, []);

  return (
    <div style={{ position: 'fixed', left: 0, top: 0, width: 2509, height: 1137, background: '#ffffff' }}>
      <canvas ref={canvasRef} width={2509} height={1137} style={{ display: 'block', width: 2509, height: 1137 }} />
    </div>
  );
}
